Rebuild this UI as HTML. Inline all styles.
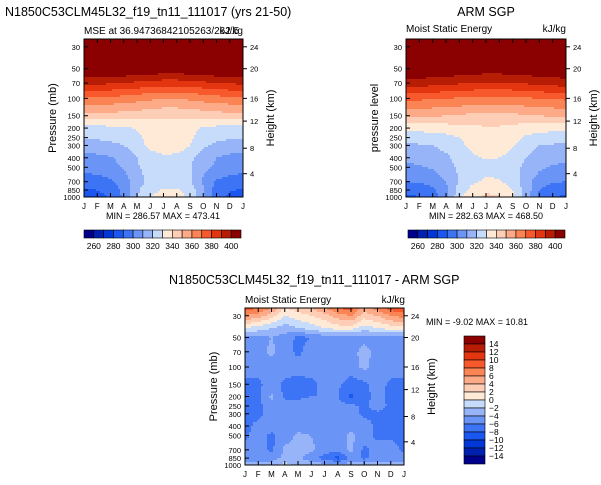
<!DOCTYPE html>
<html><head><meta charset="utf-8"><style>
body{margin:0;background:#fff;}
svg{display:block;font-family:"Liberation Sans",sans-serif;}
</style></head><body>
<svg id="s" width="601" height="485" viewBox="0 0 601 485">
<text x="5" y="16" font-size="12.5">N1850C53CLM45L32_f19_tn11_111017 (yrs 21-50)</text>
<text x="84" y="34" font-size="10">MSE at 36.94736842105263/262.5</text>
<text x="243" y="34" font-size="10" text-anchor="end">kJ/kg</text>
<text x="486" y="16" font-size="12.5" text-anchor="middle">ARM SGP</text>
<text x="406" y="32" font-size="10">Moist Static Energy</text>
<text x="566" y="32" font-size="10" text-anchor="end">kJ/kg</text>
<text x="169" y="284" font-size="12.5">N1850C53CLM45L32_f19_tn11_111017 - ARM SGP</text>
<text x="245" y="303" font-size="10">Moist Static Energy</text>
<text x="405" y="303" font-size="10" text-anchor="end">kJ/kg</text>
<text x="163" y="219" font-size="9" text-anchor="middle">MIN = 286.57 MAX = 473.41</text>
<text x="486" y="219" font-size="9" text-anchor="middle">MIN = 282.63 MAX = 468.50</text>
<text x="426" y="325" font-size="9">MIN =   -9.02 MAX =   10.81</text>
</svg>
<script>
const months=['J','F','M','A','M','J','J','A','S','O','N','D','J'];
const pLevels=[25,30,50,70,100,150,200,250,300,400,500,700,850,1000];
const pTicks=[30,50,70,100,150,200,250,300,400,500,700,850,1000];
const hTicks=[24,20,16,12,8,4];
const hTickP=[30,50,100,170,320,580];
const mseColors=['#00008b','#0021b0','#0037d6','#1a56f0','#3c74f5','#6b94f7','#98b4f9','#c6dcfa','#ffe9d7','#fecdb6','#fdaa88','#fb8454','#f8592c','#e23510','#b71c05','#8b0000'];
const mseBarLabels=[260,280,300,320,340,360,380,400];
const diffBarLabels=[14,12,10,8,6,4,2,0,-2,-4,-6,-8,-10,-12,-14];
const modelMSE=[
[455,455,455,455,455,455,455,455,455,455,455,455,455],
[440,440,440,440,440,440,440,440,440,440,440,440,440],
[412,412,412,411,410,409,408,408,409,410,411,412,412],
[392,392,391,390,388,386,385,385,386,388,390,391,392],
[368,368,367,366,364,362,361,361,362,364,366,367,368],
[347,347,346,345,344,342,341,341,342,344,345,346,347],
[326,326,327,328,331,335,336,336,333,329,327,326,326],
[321,321,322,323,327,334,337,337,332,325,322,321,321],
[316,317,318,320,325,333,336,336,330,322,318,317,316],
[306,307,309,313,320,325,328,327,322,315,310,307,306],
[304,305,307,311,319,323,325,324,321,313,308,305,304],
[294,295,298,305,316,323,325,324,321,308,299,296,294],
[289,290,293,303,318,327,331,331,326,312,295,291,289],
[286,287,291,302,320,330,334,334,328,312,294,288,286]];
const armMSE=[
[455,455,455,455,455,455,455,455,455,455,455,455,455],
[440,440,440,440,440,440,440,440,440,440,440,440,440],
[410,410,410,409,408,407,406,406,407,408,409,410,410],
[395,395,394,393,391,390,389,389,390,391,393,394,395],
[372,372,371,370,369,368,367,367,368,369,370,371,372],
[352,352,351,350,349,347,346,346,347,349,350,351,352],
[333,333,334,335,336,338,339,339,337,335,334,333,333],
[325,325,326,327,330,335,338,338,334,328,326,325,325],
[318,319,320,323,327,333,337,337,331,325,320,319,318],
[312,313,315,318,324,328,331,330,326,320,315,313,312],
[308,309,311,315,322,325,327,325,323,318,312,309,308],
[300,301,304,310,321,328,332,331,326,314,305,301,300],
[293,294,298,308,324,334,338,337,330,316,300,295,293],
[288,290,295,306,328,338,342,341,332,316,298,291,288]];
const diffLevels=[25,30,40,50,70,100,150,200,250,300,400,500,700,850,1000];
const diffMSE=[
[9,8,6,2,3,4,6,8,9,5,7,9,10],
[6,5,3,0,1,2,3,5,6,3,4,6,7],
[0,-1,-2,-3,-2,-1,0,1,1,-1,0,1,1],
[-4.5,-4.5,-4,-4.8,-6.5,-6,-5,-5,-5,-5,-5,-5,-5],
[-5,-5,-3.5,-5,-6.5,-5,-5,-5,-5,-3,-5,-5,-5],
[-5,-5,-5,-5,-5,-5,-5,-5,-5,-3.5,-5,-5,-5],
[-6.5,-6.5,-5,-6.5,-7,-6.5,-5.5,-5.5,-7,-6.5,-5,-6.5,-6.5],
[-6.5,-6.5,-3.5,-6.5,-6.5,-6,-6,-6,-8.5,-6.5,-5.5,-6.5,-6.5],
[-6.5,-6.5,-5,-5,-5,-5,-5,-5,-5.5,-6.5,-5,-6.5,-6.5],
[-6.5,-6.5,-5,-5,-5,-5,-5,-5,-5,-6.5,-6.5,-6.5,-6.5],
[-6.5,-5.5,-5,-5,-5,-5,-5,-5,-5,-5,-6.5,-6.5,-6.5],
[-6.5,-5,-6.5,-5,-3.5,-4,-5,-5,-3.5,-5,-6.5,-6.5,-6.5],
[-5,-5,-6.5,-3.5,-3.5,-3.5,-5,-5,-3.5,-6.5,-5,-5,-6.5],
[-5,-5,-5,-3.5,-3.5,-5,-7,-9,-5,-6.5,-5,-5,-5],
[-3,-3,-3,-1,-3,-3,-3,-3,-3,-3,-3,-3,-3]];

const NS='http://www.w3.org/2000/svg';
const svg=document.getElementById('s');
function mk(tag,attrs,parent){const e=document.createElementNS(NS,tag);for(const k in attrs)e.setAttribute(k,attrs[k]);(parent||svg).appendChild(e);return e;}

function panel(name,x0,y0,w,h,levels,data,binFn,ylabel){
  const g=mk('g',{});
  
  
  const lt=Math.log10(25),lb=Math.log10(1000);
  const yOf=p=>y0+(Math.log10(p)-lt)/(lb-lt)*h;
  const xOf=m=>x0+m/12*w;
  const logL=levels.map(p=>Math.log10(p));
  function val(m,lp){
    let i=0;while(i<logL.length-2&&lp>logL[i+1])i++;
    let ty=(lp-logL[i])/(logL[i+1]-logL[i]);ty=Math.max(0,Math.min(1,ty));
    let j=Math.min(11,Math.floor(m));let tx=m-j;
    const a=data[i][j]*(1-tx)+data[i][j+1]*tx;
    const b=data[i+1][j]*(1-tx)+data[i+1][j+1]*tx;
    return a*(1-ty)+b*ty;
  }
  const step=2;
  function flush(runStart,end,py,col){
    const r=mk('rect',{x:x0+runStart,y:y0+py,width:end-runStart+0.5,height:Math.min(step+0.5,h-py),fill:col},g);
    
    
  }
  for(let py=0;py<h;py+=step){
    const lp=lt+(py+step/2)/h*(lb-lt);
    let runStart=0,runCol=null;
    for(let px=0;px<w;px+=step){
      const m=Math.min(12,(px+step/2)/w*12);
      const col=mseColors[binFn(val(m,lp))];
      if(col!==runCol){
        if(runCol!==null)flush(runStart,px,py,runCol);
        runStart=px;runCol=col;
      }
    }
    if(runCol!==null)flush(runStart,w-0.5,py,runCol);
  }
  mk('rect',{x:x0,y:y0,width:w,height:h,fill:'none',stroke:'#000','stroke-width':1},g);
  months.forEach((m,i)=>{const x=xOf(i);
    mk('line',{x1:x,y1:y0+h,x2:x,y2:y0+h-4,stroke:'#000'},g);
    mk('line',{x1:x,y1:y0,x2:x,y2:y0+4,stroke:'#000'},g);
    const t=mk('text',{x:x,y:y0+h+12,'font-size':8,'text-anchor':'middle'},g);t.textContent=m;
    
    });
  pTicks.forEach(p=>{const y=yOf(p);
    mk('line',{x1:x0,y1:y,x2:x0+4,y2:y,stroke:'#000'},g);
    const t=mk('text',{x:x0-4,y:y+3,'font-size':7.5,'text-anchor':'end'},g);t.textContent=p;
    
    });
  hTicks.forEach((hk,i)=>{const y=yOf(hTickP[i]);
    mk('line',{x1:x0+w,y1:y,x2:x0+w+4,y2:y,stroke:'#000'},g);
    const t=mk('text',{x:x0+w+7,y:y+3,'font-size':7.5},g);t.textContent=hk;
    
    });
  const yl=mk('text',{x:0,y:0,'font-size':11,'text-anchor':'middle',transform:`translate(${x0-28},${y0+h/2}) rotate(-90)`},g);yl.textContent=ylabel;
  
  
  const hl=mk('text',{x:0,y:0,'font-size':11,'text-anchor':'middle',transform:`translate(${x0+w+31},${y0+h/2}) rotate(-90)`},g);hl.textContent='Height (km)';
  
  
}
const mseBin=v=>Math.max(0,Math.min(15,Math.floor((v-250)/10)));
const diffBin=v=>Math.max(0,Math.min(15,Math.floor((v+16)/2)));
panel('model-mse-panel',84,39,159,158,pLevels,modelMSE,mseBin,'Pressure (mb)');
panel('arm-mse-panel',406,39,160,158,pLevels,armMSE,mseBin,'pressure level');
panel('diff-mse-panel',245,308,159,157,diffLevels,diffMSE,diffBin,'Pressure (mb)');

function hbar(name,x0,y0,w,h){
  const g=mk('g',{});
  const bw=w/16;
  mseColors.forEach((c,i)=>{const r=mk('rect',{x:x0+i*bw,y:y0,width:bw,height:h,fill:c,stroke:'#000','stroke-width':0.6},g);
    
    });
  mseBarLabels.forEach((l,i)=>{const t=mk('text',{x:x0+(2*i+1)*bw,y:y0+h+11,'font-size':8.5,'text-anchor':'middle'},g);t.textContent=l;
    
    });
}
hbar('left-colorbar',84,230,157,8);
hbar('right-colorbar',408,230,157,8);
(function(){
  const g=mk('g',{});
  const x0=464,y0=336,w=21,h=128,bh=h/16;
  for(let i=0;i<16;i++){const r=mk('rect',{x:x0,y:y0+i*bh,width:w,height:bh,fill:mseColors[15-i],stroke:'#000','stroke-width':0.6},g);
    
    }
  diffBarLabels.forEach((l,i)=>{const t=mk('text',{x:x0+w+4,y:y0+(i+1)*bh+3,'font-size':8.5},g);t.textContent=l<0?'\u2212'+(-l):l;
    
    });
})();
</script>
</body></html>
